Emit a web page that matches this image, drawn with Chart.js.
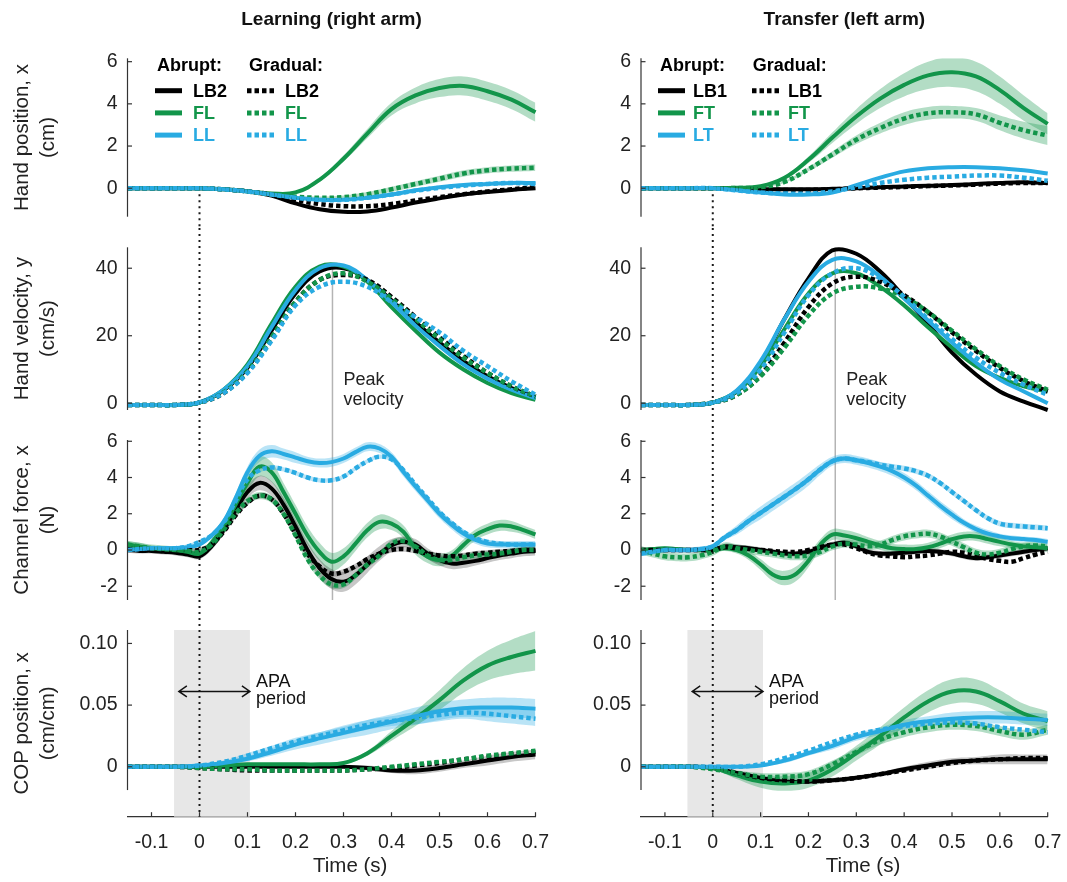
<!DOCTYPE html>
<html>
<head>
<meta charset="utf-8">
<title>Learning (right arm) / Transfer (left arm)</title>
<script src="https://cdn.jsdelivr.net/npm/chart.js@4.4.1/dist/chart.umd.min.js"></script>
<style>
  html, body { margin: 0; padding: 0; background: #ffffff; }
  #figure { position: relative; width: 1067px; height: 882px; overflow: hidden; background: #ffffff; }
  #figure canvas { position: absolute; }
</style>
</head>
<body>
<div id="figure">
  <canvas id="posL" width="560" height="228" style="left:0px;top:0px"></canvas>
  <canvas id="posR" width="507" height="228" style="left:560px;top:0px"></canvas>
  <canvas id="velL" width="560" height="192" style="left:0px;top:228px"></canvas>
  <canvas id="velR" width="507" height="192" style="left:560px;top:228px"></canvas>
  <canvas id="forceL" width="560" height="192" style="left:0px;top:420px"></canvas>
  <canvas id="forceR" width="507" height="192" style="left:560px;top:420px"></canvas>
  <canvas id="copL" width="560" height="270" style="left:0px;top:612px"></canvas>
  <canvas id="copR" width="507" height="270" style="left:560px;top:612px"></canvas>
</div>
<script>
// ---------------- DATA ----------------
const timeCoarse = [-0.15,-0.1,-0.05,0,0.05,0.1,0.15,0.2,0.25,0.3,0.35,0.4,0.45,0.5,0.55,0.6,0.65,0.7];
const timeFine = [-0.15,-0.125,-0.1,-0.075,-0.05,-0.025,0,0.025,0.05,0.075,0.1,0.125,0.15,0.175,0.2,0.225,0.25,0.275,0.3,0.325,0.35,0.375,0.4,0.425,0.45,0.475,0.5,0.525,0.55,0.575,0.6,0.625,0.65,0.675,0.7];

const xTickValues = [-0.1,0,0.1,0.2,0.3,0.4,0.5,0.6,0.7];
const xTickLabels = ['-0.1','0','0.1','0.2','0.3','0.4','0.5','0.6','0.7'];

const posTicks = [0,2,4,6];           const posTickLabels = ['0','2','4','6'];
const velTicks = [0,20,40];           const velTickLabels = ['0','20','40'];
const forceTicks = [-2,0,2,4,6];      const forceTickLabels = ['-2','0','2','4','6'];
const copTicks = [0,0.05,0.1];        const copTickLabels = ['0','0.05','0.10'];

const learnNames = ['LB2','FL','LL'];
const transferNames = ['LB1','FT','LT'];

// Hand position x (cm) – learning
const posL_LB2  = [0,0,0,0,-0.05,-0.15,-0.35,-0.72,-1.0,-1.12,-1.1,-0.92,-0.68,-0.48,-0.3,-0.18,-0.08,0];
const posL_FL   = [0,0,0,0,-0.05,-0.15,-0.25,-0.2,0.4,1.4,2.6,3.75,4.4,4.75,4.85,4.6,4.2,3.6];
const posL_LL   = [0,0,0,0,-0.05,-0.15,-0.3,-0.45,-0.55,-0.55,-0.45,-0.3,-0.1,0.05,0.15,0.2,0.25,0.25];
const posL_LB2g = [0,0,0,0,-0.05,-0.15,-0.3,-0.55,-0.75,-0.85,-0.85,-0.75,-0.58,-0.42,-0.28,-0.15,-0.05,0.05];
const posL_FLg  = [0,0,0,0,-0.05,-0.15,-0.3,-0.4,-0.45,-0.42,-0.28,-0.05,0.2,0.45,0.7,0.85,0.93,0.97];
const posL_LLg  = [0,0,0,0,-0.05,-0.15,-0.3,-0.45,-0.55,-0.55,-0.45,-0.3,-0.12,0.02,0.12,0.2,0.25,0.2];
const posL_FL_sem  = [0,0,0,0,0,0,0.02,0.05,0.1,0.15,0.22,0.3,0.38,0.43,0.45,0.45,0.45,0.45];
const posL_FLg_sem = [0,0,0,0,0,0,0.02,0.04,0.06,0.08,0.1,0.12,0.13,0.14,0.15,0.15,0.15,0.15];

// Hand position x (cm) – transfer
const posR_LB1  = [0,0,0,0,-0.02,-0.05,-0.05,-0.05,-0.03,0,0.05,0.08,0.12,0.15,0.2,0.25,0.28,0.25];
const posR_FT   = [0,0,0,0,0.02,0.1,0.5,1.35,2.4,3.4,4.25,4.9,5.35,5.5,5.3,4.65,3.8,3.05];
const posR_LT   = [0,0,0,0,-0.1,-0.2,-0.3,-0.3,-0.2,0.15,0.5,0.8,0.95,1.0,1.0,0.95,0.85,0.7];
const posR_LB1g = [0,0,0,0,-0.02,-0.05,-0.08,-0.08,-0.05,0,0.03,0.06,0.1,0.13,0.17,0.22,0.25,0.25];
const posR_FTg  = [0,0,0,0,0.01,0.05,0.3,0.9,1.6,2.3,2.85,3.3,3.55,3.6,3.5,3.1,2.75,2.5];
const posR_LTg  = [0,0,0,0,-0.1,-0.2,-0.25,-0.25,-0.15,0.05,0.25,0.4,0.5,0.55,0.6,0.6,0.5,0.35];
const posR_FT_sem  = [0,0,0,0,0,0.02,0.08,0.15,0.25,0.35,0.45,0.55,0.65,0.7,0.7,0.65,0.6,0.5];
const posR_FTg_sem = [0,0,0,0,0,0.02,0.05,0.1,0.15,0.2,0.25,0.3,0.3,0.3,0.3,0.35,0.4,0.45];

// Hand velocity y (cm/s)
const velL_LB2  = [-0.5,-0.5,-0.5,0.2,3.8,10.5,21.5,32.5,39,40,36.5,30.5,24,18,12.5,8,4.5,1.8];
const velL_FL   = [-0.5,-0.5,-0.5,0.2,4,11.5,23.5,34.5,40.5,40.5,36,28.5,21.5,15,10,6,3,1];
const velL_LL   = [-0.5,-0.5,-0.5,0.3,4,11,22.5,33.5,40,40.8,36.5,30,23,17,11.5,7.3,4,1.5];
const velL_LB2g = [-0.5,-0.5,-0.5,0.2,3,9.5,19.5,30,36.5,38,36.5,31.5,25.5,19.5,14,9,5,2];
const velL_FLg  = [-0.5,-0.5,-0.5,0.2,3.2,9.5,19.5,30,36.5,38.5,36,31,25,19,13.5,9,5,2];
const velL_LLg  = [-0.5,-0.5,-0.5,0.2,3,9,18.5,29,34.5,36,34.5,30,25.5,21,15.5,11,6.5,2.5];

const velR_LB1  = [-0.5,-0.5,-0.5,0.2,3.5,12,25,37,45.3,44.3,39,31.5,23.5,15,8.5,3.5,0.5,-2];
const velR_FT   = [-0.5,-0.5,-0.5,0.2,3.5,11,22,32.5,38.5,38.5,34.5,29,22.5,16.5,11,7.5,5,3.5];
const velR_LT   = [-0.5,-0.5,-0.5,0.2,3.8,12.5,25,36,42.5,42,37.5,31,24.5,18,12,7,3.5,0];
const velR_LB1g = [-0.5,-0.5,-0.5,0.2,2.5,8.5,18,28.5,35.5,37.5,36,32,27,21,15.5,10.5,6.5,3.5];
const velR_FTg  = [-0.5,-0.5,-0.5,0.2,2.5,8,16.5,26,32.5,34.5,34,31.5,27,21.5,16,11,7,4];
const velR_LTg  = [-0.5,-0.5,-0.5,0.2,3,10,21,32,38.5,40,37,31.5,25,19,13.5,9,5.5,2.5];

// Channel force x (N)
const forceL_LB2  = [0,-0.05,-0.05,-0.1,-0.15,-0.25,-0.35,0.2,1.1,2.2,3.2,3.7,3.4,2.5,1.3,0.0,-1.0,-1.6,-1.75,-1.4,-0.8,-0.2,0.25,0.45,0.3,-0.2,-0.55,-0.75,-0.7,-0.6,-0.45,-0.3,-0.2,-0.1,-0.05];
const forceL_FL   = [0.3,0.2,0.1,0.05,0.0,-0.1,-0.2,0.4,1.3,2.5,3.7,4.6,4.3,3.2,2.0,0.8,-0.1,-0.65,-0.35,0.35,1.1,1.55,1.45,1.0,0.1,-0.37,-0.55,-0.33,0.28,0.83,1.15,1.35,1.3,1.1,0.86];
const forceL_LL   = [0.0,0.05,0.1,0.1,0.1,0.15,0.3,0.8,1.55,2.85,4.3,5.2,5.45,5.3,5.1,4.9,4.8,4.85,5.05,5.4,5.7,5.6,5.15,4.3,3.5,2.75,2.0,1.4,0.9,0.55,0.35,0.3,0.3,0.3,0.3];
const forceL_LB2g = [0.1,0.1,0.05,0.0,0.0,0.0,0.0,0.3,1.0,1.9,2.6,3.0,2.8,2.0,0.9,-0.2,-0.9,-1.3,-1.2,-0.9,-0.5,-0.2,0.0,0.05,-0.05,-0.2,-0.3,-0.35,-0.3,-0.2,-0.15,-0.1,-0.05,0,0];
const forceL_FLg  = [0.3,0.2,0.1,0.05,0.0,-0.05,-0.1,0.3,1.1,2.0,2.7,3.0,2.8,2.0,0.8,-0.5,-1.4,-1.9,-1.9,-1.4,-0.8,-0.3,0.35,0.5,0.2,-0.3,-0.55,-0.55,-0.4,-0.3,-0.25,-0.2,-0.1,0,0];
const forceL_LLg  = [0.0,0.05,0.1,0.1,0.1,0.2,0.45,0.8,1.5,2.7,3.9,4.4,4.55,4.45,4.25,4.0,3.85,3.85,4.05,4.5,4.9,5.15,5.0,4.4,3.6,2.85,2.1,1.5,1.0,0.65,0.45,0.35,0.3,0.3,0.3];
const forceL_LB2_sem = [0.15,0.15,0.15,0.15,0.15,0.15,0.15,0.2,0.25,0.3,0.35,0.4,0.4,0.4,0.4,0.45,0.5,0.55,0.55,0.5,0.45,0.4,0.35,0.3,0.3,0.3,0.3,0.3,0.3,0.25,0.25,0.25,0.25,0.25,0.25];
const forceL_FL_sem  = [0.2,0.2,0.15,0.15,0.15,0.15,0.15,0.2,0.3,0.4,0.5,0.55,0.55,0.5,0.5,0.5,0.5,0.5,0.45,0.4,0.4,0.4,0.35,0.35,0.35,0.35,0.35,0.3,0.3,0.3,0.3,0.3,0.3,0.25,0.25];
const forceL_LL_sem  = [0.1,0.1,0.1,0.1,0.1,0.1,0.1,0.15,0.2,0.25,0.3,0.35,0.35,0.3,0.3,0.25,0.25,0.25,0.25,0.25,0.25,0.25,0.25,0.25,0.25,0.25,0.25,0.25,0.25,0.2,0.2,0.2,0.2,0.2,0.2];
const forceL_FLg_sem = 0.2;
const forceL_LLg_sem = 0.12;
const forceL_LB2g_sem = 0.15;

const forceR_LB1  = [0,0,0,0,0,0,0,0.2,0.15,0.1,0,-0.1,-0.2,-0.2,-0.1,0.1,0.3,0.4,0.2,-0.1,-0.2,-0.2,-0.15,-0.1,-0.05,-0.1,-0.2,-0.35,-0.45,-0.4,-0.3,-0.2,-0.1,0,0.1];
const forceR_FT   = [0,0.05,0.1,0.05,0,0,0,0.1,0,-0.3,-0.8,-1.35,-1.55,-1.3,-0.6,0.3,0.85,0.8,0.65,0.45,0.25,0.1,0.05,0.05,0.15,0.35,0.6,0.75,0.75,0.6,0.45,0.3,0.2,0.15,0.1];
const forceR_LT   = [-0.2,-0.1,0,0,0,0.05,0.2,0.7,1.1,1.6,2.05,2.5,2.95,3.4,3.9,4.45,4.9,5.05,4.95,4.8,4.6,4.35,4.0,3.55,3.0,2.45,1.95,1.5,1.15,0.9,0.75,0.65,0.6,0.55,0.45];
const forceR_LB1g = [0,0,0,0,0,0,0,0.15,0.1,0.05,0,-0.05,-0.1,-0.1,0,0.15,0.3,0.3,0.1,-0.15,-0.3,-0.35,-0.4,-0.35,-0.3,-0.2,-0.1,-0.15,-0.3,-0.5,-0.6,-0.65,-0.45,-0.25,-0.1];
const forceR_FTg  = [0,-0.2,-0.35,-0.4,-0.4,-0.3,-0.1,0.2,0.1,0,-0.1,-0.2,-0.3,-0.35,-0.3,-0.1,0.2,0.35,0.3,0.2,0.3,0.55,0.75,0.85,0.9,0.75,0.45,0.15,-0.15,-0.25,-0.15,0.05,0.2,0.25,0.2];
const forceR_LTg  = [-0.2,-0.1,0,0,0,0.05,0.2,0.7,1.1,1.6,2.05,2.5,2.95,3.4,3.9,4.45,4.9,5.05,4.95,4.85,4.7,4.6,4.5,4.35,4.1,3.7,3.2,2.7,2.2,1.75,1.45,1.35,1.3,1.25,1.2];
const forceR_LT_sem = [0.05,0.05,0.05,0.05,0.05,0.05,0.05,0.15,0.25,0.3,0.35,0.35,0.35,0.35,0.35,0.3,0.25,0.25,0.25,0.25,0.25,0.25,0.25,0.25,0.25,0.25,0.25,0.2,0.2,0.2,0.15,0.15,0.15,0.15,0.15];
const forceR_FT_sem = [0.1,0.1,0.1,0.1,0.1,0.1,0.1,0.15,0.2,0.25,0.3,0.35,0.4,0.4,0.35,0.3,0.3,0.3,0.3,0.25,0.25,0.25,0.25,0.25,0.25,0.25,0.25,0.25,0.25,0.25,0.25,0.2,0.2,0.2,0.2];
const forceR_LTg_sem = 0.15;
const forceR_FTg_sem = 0.22;
const forceR_LB1_sem = 0.15;

// COP position x (cm/cm)
const copL_LB2  = [0,0,0,0,0,0,0,0,0,0,-0.001,-0.003,-0.003,-0.001,0.002,0.005,0.008,0.01];
const copL_FL   = [0,0,0,0,0.001,0.002,0.002,0.002,0.002,0.003,0.011,0.025,0.039,0.054,0.07,0.082,0.089,0.094];
const copL_LL   = [0,0,0,0.001,0.003,0.0065,0.012,0.018,0.023,0.0275,0.032,0.0365,0.041,0.045,0.0475,0.048,0.048,0.047];
const copL_LB2g = [0,0,0,-0.001,-0.002,-0.003,-0.003,-0.003,-0.003,-0.003,-0.002,-0.001,0.001,0.003,0.006,0.008,0.01,0.012];
const copL_FLg  = [0,0,0,-0.001,-0.002,-0.002,-0.003,-0.003,-0.003,-0.003,-0.002,0,0.002,0.004,0.006,0.009,0.011,0.013];
const copL_LLg  = [0,0,0,0.001,0.004,0.009,0.015,0.0205,0.025,0.0295,0.034,0.037,0.0395,0.042,0.044,0.043,0.041,0.039];
const copL_FL_sem  = [0,0,0,0,0,0,0,0,0,0.001,0.002,0.004,0.006,0.008,0.01,0.012,0.014,0.016];
const copL_LL_sem  = [0,0,0,0.001,0.001,0.002,0.003,0.004,0.005,0.005,0.006,0.006,0.007,0.007,0.007,0.008,0.008,0.008];
const copL_LLg_sem = [0,0,0,0.001,0.001,0.002,0.002,0.003,0.003,0.004,0.004,0.004,0.005,0.005,0.005,0.006,0.006,0.006];
const copL_LB2_sem = [0,0,0,0,0,0,0.001,0.001,0.001,0.001,0.002,0.002,0.003,0.003,0.003,0.004,0.004,0.004];

const copR_LB1  = [0,0,0,-0.001,-0.005,-0.009,-0.012,-0.012,-0.011,-0.009,-0.006,-0.002,0.001,0.004,0.005,0.006,0.006,0.006];
const copR_FT   = [0,0,0,-0.001,-0.007,-0.012,-0.0135,-0.011,-0.002,0.011,0.025,0.04,0.053,0.061,0.061,0.053,0.043,0.037];
const copR_LT   = [0,0,0,0,0,0.001,0.005,0.011,0.017,0.024,0.029,0.034,0.037,0.039,0.04,0.04,0.039,0.038];
const copR_LB1g = [0,0,0,-0.001,-0.005,-0.009,-0.011,-0.012,-0.011,-0.009,-0.006,-0.003,0,0.003,0.005,0.006,0.007,0.007];
const copR_FTg  = [0,0,0,-0.002,-0.005,-0.008,-0.008,-0.006,0.002,0.012,0.022,0.028,0.032,0.034,0.033,0.029,0.026,0.03];
const copR_LTg  = [0,0,0,0,0,0.002,0.007,0.013,0.02,0.026,0.03,0.033,0.035,0.036,0.035,0.032,0.03,0.028];
const copR_FT_sem  = [0,0,0,0.001,0.003,0.005,0.006,0.006,0.006,0.006,0.007,0.008,0.009,0.01,0.01,0.009,0.008,0.008];
const copR_FTg_sem = [0,0,0,0.001,0.002,0.003,0.003,0.003,0.003,0.003,0.004,0.004,0.004,0.004,0.004,0.004,0.004,0.004];
const copR_LT_sem  = [0,0,0,0,0.001,0.001,0.002,0.002,0.003,0.003,0.003,0.004,0.004,0.005,0.005,0.005,0.005,0.005];
const copR_LB1_sem = [0,0,0,0,0.001,0.001,0.001,0.002,0.002,0.002,0.002,0.002,0.003,0.003,0.003,0.004,0.004,0.004];

// annotation anchors (data units)
const peakTimeL = 0.277, peakTimeR = 0.256;
const apaBox = [-0.053, 0.105];
const apaArrow = [-0.043, 0.105];
const apaArrowLevel = 0.0611;

// ---------------- STYLE ----------------
const FONT = "'Liberation Sans', Arial, Helvetica, sans-serif";
Chart.defaults.font.family = FONT;
Chart.defaults.color = '#222';

const C_BLACK = '#000000', C_GREEN = '#12954a', C_BLUE = '#29abe2';
const B_BLACK = 'rgba(0,0,0,0.22)', B_GREEN = 'rgba(18,149,74,0.32)', B_BLUE = 'rgba(41,171,226,0.32)';
const LINE_COLORS = [C_BLACK, C_GREEN, C_BLUE];
const TENSION = 0.4;

function semAt(sem, i) { return Array.isArray(sem) ? sem[i] : sem; }

function buildDatasets(time, series) {
  const ds = [];
  series.forEach(s => {
    if (s.sem === undefined || s.sem === null) return;
    ds.push({ data: time.map((t, i) => ({ x: t, y: s.vals[i] + semAt(s.sem, i) })),
      fill: '+1', backgroundColor: s.band, borderWidth: 0, pointRadius: 0, order: 50, tension: TENSION, clip: 6 });
    ds.push({ data: time.map((t, i) => ({ x: t, y: s.vals[i] - semAt(s.sem, i) })),
      fill: false, borderWidth: 0, pointRadius: 0, order: 50, tension: TENSION, clip: 6 });
  });
  series.forEach(s => {
    ds.push({ data: time.map((t, i) => ({ x: t, y: s.vals[i] })),
      borderColor: s.color, borderWidth: s.dashed ? 4.5 : 4, borderDash: s.dashed ? [4.5, 3] : [],
      borderCapStyle: 'butt', borderJoinStyle: 'round', pointRadius: 0, fill: false,
      order: s.order, tension: TENSION, clip: 6 });
  });
  return ds;
}

function six(v, sems) {
  // v: [solid black, solid green, solid blue, dotted black, dotted green, dotted blue]
  const colors = [C_BLACK, C_GREEN, C_BLUE, C_BLACK, C_GREEN, C_BLUE];
  const bands = [B_BLACK, B_GREEN, B_BLUE, B_BLACK, B_GREEN, B_BLUE];
  const orders = [6, 5, 4, 3, 2, 1];
  return v.map((vals, k) => ({ vals, color: colors[k], band: bands[k], dashed: k >= 3, order: orders[k], sem: sems[k] }));
}

const decorPlugin = {
  id: 'decor',
  beforeDatasetsDraw(chart, args, o) {
    const ctx = chart.ctx, ca = chart.chartArea, xs = chart.scales.x, ys = chart.scales.y;
    ctx.save();
    if (o.apa) {
      const a = xs.getPixelForValue(o.apa.box[0]), b = xs.getPixelForValue(o.apa.box[1]);
      ctx.fillStyle = '#e7e7e7';
      ctx.fillRect(a, ca.top, b - a, ca.bottom - ca.top);
    }
    if (o.peak) {
      const px = xs.getPixelForValue(o.peak.t);
      const y0 = (o.peak.from === undefined || o.peak.from === null) ? 0 : ys.getPixelForValue(o.peak.from);
      const y1 = o.peak.toAxis ? ca.bottom : chart.height;
      ctx.strokeStyle = '#b4b4b4'; ctx.lineWidth = 1.5; ctx.setLineDash([]);
      ctx.beginPath(); ctx.moveTo(px, y0); ctx.lineTo(px, y1); ctx.stroke();
    }
    if (o.zero) {
      const px = xs.getPixelForValue(0);
      const y0 = (o.zero.from === undefined || o.zero.from === null) ? 0 : ys.getPixelForValue(o.zero.from);
      const y1 = o.zero.toAxis ? ca.bottom : chart.height;
      ctx.strokeStyle = '#1a1a1a'; ctx.lineWidth = 2; ctx.setLineDash([2, 4]);
      ctx.beginPath(); ctx.moveTo(px, y0); ctx.lineTo(px, y1); ctx.stroke();
    }
    ctx.restore();
  },
  afterDatasetsDraw(chart, args, o) {
    const ctx = chart.ctx, ca = chart.chartArea, xs = chart.scales.x, ys = chart.scales.y;
    ctx.save();
    ctx.setLineDash([]);
    ctx.strokeStyle = '#333'; ctx.lineWidth = 1.2;
    const yEnd = ys.getPixelForValue(o.axisMin);
    ctx.beginPath(); ctx.moveTo(ca.left, ca.top); ctx.lineTo(ca.left, yEnd); ctx.stroke();
    ys.ticks.forEach(t => {
      const py = ys.getPixelForValue(t.value);
      ctx.beginPath(); ctx.moveTo(ca.left, py); ctx.lineTo(ca.left + 4.5, py); ctx.stroke();
    });
    if (o.xTicksIn) {
      xs.ticks.forEach(t => {
        const px = xs.getPixelForValue(t.value);
        ctx.beginPath(); ctx.moveTo(px, ca.bottom); ctx.lineTo(px, ca.bottom - 4.5); ctx.stroke();
      });
    }
    if (o.apa) {
      const ax0 = xs.getPixelForValue(o.apa.arrow[0]), ax1 = xs.getPixelForValue(o.apa.arrow[1]);
      const ay = ys.getPixelForValue(o.apa.level);
      ctx.strokeStyle = '#111'; ctx.lineWidth = 1.5;
      ctx.beginPath();
      ctx.moveTo(ax0, ay); ctx.lineTo(ax1, ay);
      ctx.moveTo(ax0 + 8, ay - 5.5); ctx.lineTo(ax0, ay); ctx.lineTo(ax0 + 8, ay + 5.5);
      ctx.moveTo(ax1 - 8, ay - 5.5); ctx.lineTo(ax1, ay); ctx.lineTo(ax1 - 8, ay + 5.5);
      ctx.stroke();
      ctx.fillStyle = '#111'; ctx.font = '18px ' + FONT;
      ctx.textAlign = 'left'; ctx.textBaseline = 'alphabetic';
      const tx = xs.getPixelForValue(o.apa.box[1]) + 6;
      ctx.fillText(o.apa.lines[0], tx, ay - 4.3);
      ctx.fillText(o.apa.lines[1], tx, ay + 12.3);
    }
    if (o.peakLabel) {
      const px = xs.getPixelForValue(o.peakLabel.t) + 11, py = ys.getPixelForValue(o.peakLabel.y);
      ctx.fillStyle = '#222'; ctx.font = '18px ' + FONT;
      ctx.textAlign = 'left'; ctx.textBaseline = 'alphabetic';
      ctx.fillText(o.peakLabel.lines[0], px, py);
      ctx.fillText(o.peakLabel.lines[1], px, py + 20);
    }
    if (o.legend) {
      const L = o.legend, lx = ca.left, ty = ca.top;
      ctx.font = 'bold 18px ' + FONT; ctx.textAlign = 'left'; ctx.textBaseline = 'middle';
      ctx.fillStyle = '#000';
      ctx.fillText(L.headers[0], lx + L.col1, ty + L.head);
      ctx.fillText(L.headers[1], lx + L.col2, ty + L.head);
      L.names.forEach((nm, i) => {
        const yy = ty + L.row0 + i * L.gap;
        ctx.strokeStyle = LINE_COLORS[i]; ctx.fillStyle = LINE_COLORS[i];
        ctx.lineWidth = 5; ctx.lineCap = 'butt';
        ctx.setLineDash([]);
        ctx.beginPath(); ctx.moveTo(lx + L.s1, yy); ctx.lineTo(lx + L.s1 + 27, yy); ctx.stroke();
        ctx.fillText(nm, lx + L.t1, yy + 1);
        ctx.setLineDash([4.5, 3]);
        ctx.beginPath(); ctx.moveTo(lx + L.s2, yy); ctx.lineTo(lx + L.s2 + 27, yy); ctx.stroke();
        ctx.fillText(nm, lx + L.t2, yy + 1);
      });
    }
    if (o.xTitle) {
      ctx.setLineDash([]);
      ctx.fillStyle = '#222'; ctx.font = '20.5px ' + FONT;
      ctx.textAlign = 'center'; ctx.textBaseline = 'middle';
      ctx.fillText(o.xTitle.text, xs.getPixelForValue(o.xTitle.t), ca.bottom + o.xTitle.dy);
    }
    ctx.restore();
  }
};

const COLS = { L: { yAxisWidth: 127.5, padRight: 24.5 }, R: { yAxisWidth: 81, padRight: 19.3 } };

function makeChart(id, col, cfg) {
  const c = COLS[col];
  const hasX = !!cfg.xHeight;
  return new Chart(document.getElementById(id), {
    type: 'line',
    data: { datasets: buildDatasets(cfg.time, cfg.series) },
    plugins: [decorPlugin],
    options: {
      responsive: false, animation: false, events: [],
      layout: { padding: { top: cfg.padTop, bottom: cfg.padBottom, left: 0, right: c.padRight } },
      plugins: {
        legend: { display: false }, tooltip: { enabled: false },
        title: cfg.title ? { display: true, text: cfg.title, fullSize: false, color: '#111',
          font: { size: 19, weight: 'bold', lineHeight: 1.2 }, padding: { top: 8.6, bottom: 26.9 } } : { display: false },
        decor: cfg.decor
      },
      scales: {
        x: {
          type: 'linear', min: -0.15, max: 0.7, display: hasX,
          afterBuildTicks: s => { s.ticks = xTickValues.map(v => ({ value: v })); },
          afterFit: s => { if (hasX) s.height = cfg.xHeight; s.paddingLeft = 0; s.paddingRight = 0; },
          grid: { drawOnChartArea: false, drawTicks: false },
          border: { display: true, color: '#333', width: 1.2 },
          ticks: { padding: 14.5, font: { size: 19.5 }, color: '#222', maxRotation: 0, autoSkip: false,
            callback: (v, i) => xTickLabels[i] },
          title: { display: false }
        },
        y: {
          type: 'linear', min: cfg.yMin, max: cfg.yMax,
          afterBuildTicks: s => { s.ticks = cfg.yTicks.map(v => ({ value: v })); },
          afterFit: s => { s.width = c.yAxisWidth; s.paddingTop = 0; s.paddingBottom = 0; },
          grid: { drawOnChartArea: false, drawTicks: false },
          border: { display: false },
          ticks: { padding: 10, font: { size: 19.5 }, color: '#222', callback: (v, i) => cfg.yTickLabels[i] },
          title: cfg.yTitle ? { display: true, text: cfg.yTitle, color: '#222',
            font: { size: 20.5, lineHeight: 1.25 }, padding: { top: 9.6, bottom: 0 } } : { display: false }
        }
      }
    }
  });
}

const legendL = { headers: ['Abrupt:', 'Gradual:'], names: learnNames, head: 7.5, row0: 32.4, gap: 22.2,
  col1: 29.5, col2: 121.5, s1: 27.5, t1: 65.5, s2: 119.5, t2: 157.5 };
const legendR = { headers: ['Abrupt:', 'Gradual:'], names: transferNames, head: 7.5, row0: 32.4, gap: 22.2,
  col1: 19, col2: 111.7, s1: 17, t1: 52, s2: 111, t2: 147 };

makeChart('posL', 'L', {
  time: timeCoarse, title: 'Learning (right arm)', padTop: 0, padBottom: 11.3,
  yMin: -1.35, yMax: 6.16, yTicks: posTicks, yTickLabels: posTickLabels, yTitle: ['Hand position, x', '(cm)'],
  series: six([posL_LB2, posL_FL, posL_LL, posL_LB2g, posL_FLg, posL_LLg], [null, posL_FL_sem, null, null, posL_FLg_sem, null]),
  decor: { axisMin: -1.35, zero: { from: 0 }, legend: legendL }
});
makeChart('posR', 'R', {
  time: timeCoarse, title: 'Transfer (left arm)', padTop: 0, padBottom: 11.3,
  yMin: -1.35, yMax: 6.16, yTicks: posTicks, yTickLabels: posTickLabels,
  series: six([posR_LB1, posR_FT, posR_LT, posR_LB1g, posR_FTg, posR_LTg], [null, posR_FT_sem, null, null, posR_FTg_sem, null]),
  decor: { axisMin: -1.35, zero: { from: 0 }, legend: legendR }
});

makeChart('velL', 'L', {
  time: timeCoarse, padTop: 19.3, padBottom: 10,
  yMin: -2, yMax: 46.2, yTicks: velTicks, yTickLabels: velTickLabels, yTitle: ['Hand velocity, y', '(cm/s)'],
  series: six([velL_LB2, velL_FL, velL_LL, velL_LB2g, velL_FLg, velL_LLg], [null, null, null, null, null, null]),
  decor: { axisMin: -2, zero: {}, peak: { t: peakTimeL, from: 41 }, peakLabel: { t: peakTimeL, y: 5.5, lines: ['Peak', 'velocity'] } }
});
makeChart('velR', 'R', {
  time: timeCoarse, padTop: 19.3, padBottom: 10,
  yMin: -2, yMax: 46.2, yTicks: velTicks, yTickLabels: velTickLabels,
  series: six([velR_LB1, velR_FT, velR_LT, velR_LB1g, velR_FTg, velR_LTg], [null, null, null, null, null, null]),
  decor: { axisMin: -2, zero: {}, peak: { t: peakTimeR, from: 45.5 }, peakLabel: { t: peakTimeR, y: 5.5, lines: ['Peak', 'velocity'] } }
});

makeChart('forceL', 'L', {
  time: timeFine, padTop: 20, padBottom: 12,
  yMin: -2.76, yMax: 6.07, yTicks: forceTicks, yTickLabels: forceTickLabels, yTitle: ['Channel force, x', '(N)'],
  series: six([forceL_LB2, forceL_FL, forceL_LL, forceL_LB2g, forceL_FLg, forceL_LLg],
    [forceL_LB2_sem, forceL_FL_sem, forceL_LL_sem, forceL_LB2g_sem, forceL_FLg_sem, forceL_LLg_sem]),
  decor: { axisMin: -2.76, zero: {}, peak: { t: peakTimeL, toAxis: true } }
});
makeChart('forceR', 'R', {
  time: timeFine, padTop: 20, padBottom: 12,
  yMin: -2.76, yMax: 6.07, yTicks: forceTicks, yTickLabels: forceTickLabels,
  series: six([forceR_LB1, forceR_FT, forceR_LT, forceR_LB1g, forceR_FTg, forceR_LTg],
    [forceR_LB1_sem, forceR_FT_sem, forceR_LT_sem, null, forceR_FTg_sem, forceR_LTg_sem]),
  decor: { axisMin: -2.76, zero: {}, peak: { t: peakTimeR, toAxis: true } }
});

makeChart('copL', 'L', {
  time: timeCoarse, padTop: 18, padBottom: 0, xHeight: 65.3,
  yMin: -0.0405, yMax: 0.1109, yTicks: copTicks, yTickLabels: copTickLabels, yTitle: ['COP position, x', '(cm/cm)'],
  series: six([copL_LB2, copL_FL, copL_LL, copL_LB2g, copL_FLg, copL_LLg], [copL_LB2_sem, copL_FL_sem, copL_LL_sem, null, null, copL_LLg_sem]),
  decor: { axisMin: -0.0189, xTicksIn: true, zero: { toAxis: true },
    apa: { box: apaBox, arrow: apaArrow, level: apaArrowLevel, lines: ['APA', 'period'] },
    xTitle: { text: 'Time (s)', t: 0.314, dy: 49.3 } }
});
makeChart('copR', 'R', {
  time: timeCoarse, padTop: 18, padBottom: 0, xHeight: 65.3,
  yMin: -0.0405, yMax: 0.1109, yTicks: copTicks, yTickLabels: copTickLabels,
  series: six([copR_LB1, copR_FT, copR_LT, copR_LB1g, copR_FTg, copR_LTg], [copR_LB1_sem, copR_FT_sem, copR_LT_sem, null, copR_FTg_sem, null]),
  decor: { axisMin: -0.0189, xTicksIn: true, zero: { toAxis: true },
    apa: { box: apaBox, arrow: apaArrow, level: apaArrowLevel, lines: ['APA', 'period'] },
    xTitle: { text: 'Time (s)', t: 0.314, dy: 49.3 } }
});
</script>
</body>
</html>
